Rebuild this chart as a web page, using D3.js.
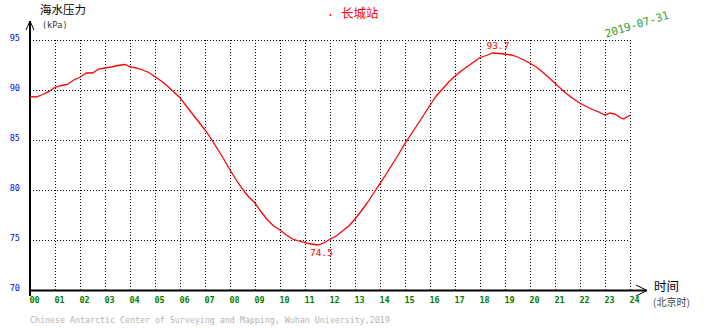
<!DOCTYPE html>
<html><head><meta charset="utf-8">
<script src="https://cdn.jsdelivr.net/npm/d3@7"></script>
<style>
html,body{margin:0;padding:0;background:#fff;}
svg{display:block;}
</style></head>
<body>
<script>
const hours = [0,0.25,0.5,0.75,1,1.25,1.5,1.75,2,2.25,2.5,2.75,3,3.25,3.5,3.8,4,4.25,4.5,4.75,5,5.25,5.5,5.75,6,6.25,6.5,6.75,7,7.25,7.5,7.75,8,8.25,8.5,8.75,9,9.25,9.5,9.75,10,10.25,10.5,10.75,11,11.25,11.5,11.75,12,12.25,12.5,12.75,13,13.25,13.5,13.75,14,14.25,14.5,14.75,15,15.25,15.5,15.75,16,16.25,16.5,16.75,17,17.25,17.5,17.75,18,18.25,18.5,18.75,19,19.25,19.5,19.75,20,20.25,20.5,20.75,21,21.25,21.5,21.75,22,22.25,22.5,22.75,23,23.2,23.4,23.6,23.75,23.9,24];
const pressure = [89.33,89.3,89.55,89.83,90.27,90.45,90.55,91.0,91.27,91.7,91.7,92.1,92.2,92.3,92.45,92.55,92.33,92.2,92.0,91.75,91.33,90.9,90.4,89.8,89.23,88.4,87.6,86.8,86.0,85.1,84.1,83.1,82.0,81.0,80.1,79.3,78.7,77.8,77.0,76.4,76.0,75.5,75.1,74.9,74.73,74.6,74.5,74.7,75.07,75.4,75.9,76.4,77.1,77.9,78.75,79.7,80.67,81.6,82.6,83.6,84.67,85.6,86.55,87.5,88.5,89.4,90.1,90.8,91.4,91.9,92.35,92.8,93.25,93.45,93.7,93.65,93.6,93.5,93.3,93.0,92.67,92.3,91.8,91.25,90.67,90.1,89.55,89.1,88.67,88.35,88.05,87.8,87.5,87.7,87.6,87.25,87.1,87.35,87.5];
const yTicks = [70,75,80,85,90,95];
const xTicks = d3.range(0,25);
const minLabel = "74.5", maxLabel = "93.7";
const minHour = 11.5, maxHour = 18.6;
const minVal = 74.5, maxVal = 93.7;

const W = 710, H = 328;
const svg = d3.select("body").append("svg").attr("width",W).attr("height",H);
const x = d3.scaleLinear().domain([0,24]).range([30,630]);
const y = d3.scaleLinear().domain([70,95]).range([290,40]);
const mono = "'DejaVu Sans Mono', monospace";

// grid
const gx = svg.append("g").attr("transform","translate(0,290)")
  .call(d3.axisBottom(x).tickValues(xTicks.filter(d=>d>0)).tickSize(-250).tickFormat(""));
gx.select(".domain").remove();
gx.selectAll("line").attr("stroke","#000").attr("stroke-dasharray","1,2").attr("shape-rendering","crispEdges");
const gy = svg.append("g").attr("transform","translate(30,0)")
  .call(d3.axisLeft(y).tickValues(yTicks.filter(d=>d>70)).tickSize(-600).tickFormat(""));
gy.select(".domain").remove();
gy.selectAll("line").attr("stroke","#000").attr("stroke-dasharray","1,2").attr("shape-rendering","crispEdges");

// tick labels
const ax = svg.append("g").attr("transform","translate(4,290)")
  .call(d3.axisBottom(x).tickValues(xTicks).tickSize(0).tickPadding(7).tickFormat(d3.format("02d")));
ax.select(".domain").remove();
ax.selectAll("text").attr("fill","#008000").attr("font-family",mono).attr("font-size","8.5px").attr("font-weight","bold");
const ay = svg.append("g").attr("transform","translate(20,-2)")
  .call(d3.axisLeft(y).tickValues(yTicks).tickSize(0).tickPadding(0).tickFormat(d3.format("d")));
ay.select(".domain").remove();
ay.selectAll("text").attr("fill","#0000ff").attr("font-family",mono).attr("font-size","8.5px");

// axes lines
svg.append("line").attr("x1",30).attr("x2",30).attr("y1",21).attr("y2",296).attr("stroke","#000").attr("stroke-width",2);
svg.append("path").attr("d","M26,30L30,21L34,30").attr("fill","none").attr("stroke","#000").attr("stroke-width",1);
svg.append("line").attr("x1",29).attr("x2",647).attr("y1",290.5).attr("y2",290.5).attr("stroke","#000").attr("stroke-width",2);
svg.append("path").attr("d","M636,285L647,290.5L636,296").attr("fill","none").attr("stroke","#000").attr("stroke-width",1);

// data line
const line = d3.line().x((d,i)=>x(hours[i])).y(d=>y(d));
svg.append("path").datum(pressure).attr("d",line).attr("fill","none").attr("stroke","#ff0000").attr("stroke-width",1.3);

// min / max labels
svg.append("text").attr("x",x(minHour)+4).attr("y",y(minVal)+11).attr("text-anchor","middle")
  .attr("fill","#ff0000").attr("font-family",mono).attr("font-size","9.5px").text(minLabel);
svg.append("text").attr("x",x(maxHour)+3).attr("y",y(maxVal)-4).attr("text-anchor","middle")
  .attr("fill","#ff0000").attr("font-family",mono).attr("font-size","9.5px").text(maxLabel);

// titles
svg.append("text").attr("x",40).attr("y",14).attr("fill","#000").attr("font-family","'Noto Sans CJK SC'").attr("font-size","11.5px").text("海水压力");
svg.append("text").attr("x",42).attr("y",28).attr("fill","#333").attr("font-family",mono).attr("font-size","8.5px").text("(kPa)");
svg.append("circle").attr("cx",330.5).attr("cy",15).attr("r",0.9).attr("fill","#ff0000");
svg.append("text").attr("x",341).attr("y",18).attr("fill","#ff0000").attr("font-family","'Noto Sans CJK SC'").attr("font-size","12.5px").text("长城站");
svg.append("text").attr("transform","translate(638,28) rotate(-17)").attr("text-anchor","middle")
  .attr("fill","#2ca02c").attr("font-family",mono).attr("font-size","11px").text("2019-07-31");
svg.append("text").attr("x",654).attr("y",291).attr("fill","#000").attr("font-family","'Noto Sans CJK SC'").attr("font-size","12.5px").text("时间");
svg.append("text").attr("x",653).attr("y",306).attr("fill","#444").attr("font-family","'Noto Sans CJK SC'").attr("font-size","10px").text("(北京时)");
svg.append("text").attr("x",30).attr("y",323).attr("fill","#b4b4b4").attr("font-family",mono).attr("font-size","8.3px")
  .text("Chinese Antarctic Center of Surveying and Mapping, Wuhan University,2019");
</script>
</body></html>
